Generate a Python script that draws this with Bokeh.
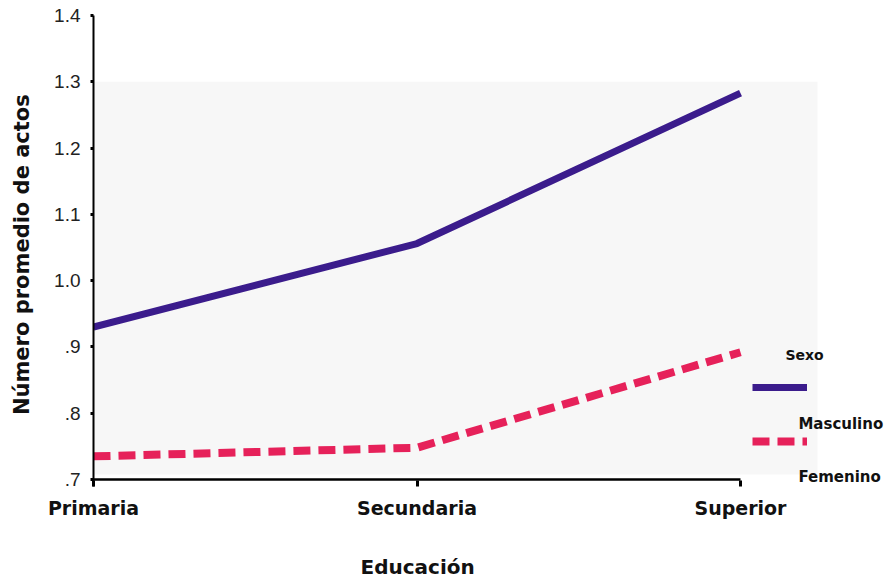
from bokeh.plotting import figure
from bokeh.models import Range1d, FixedTicker, BoxAnnotation, Label, Legend, LegendItem, Title
from bokeh.core.properties import value
from bokeh.embed import file_html
from bokeh.resources import INLINE

# ---- data ----
categories = ["Primaria", "Secundaria", "Superior"]
masculino = [0.93, 1.056, 1.283]
femenino = [0.735, 0.748, 0.892]
series_names = ["Masculino", "Femenino"]
y_ticks = [0.7, 0.8, 0.9, 1.0, 1.1, 1.2, 1.3, 1.4]
y_tick_labels = [".7", ".8", ".9", "1.0", "1.1", "1.2", "1.3", "1.4"]
legend_title = "Sexo"
x_title = "Educación"
y_title = "Número promedio de  actos"

xs = list(range(len(categories)))

MASC = "#3b1c8c"
FEM = "#e6215a"
BOLD = "DejaVu Sans"

p = figure(width=887, height=580, output_backend="svg", toolbar_location=None,
           x_range=Range1d(0, 2.4544), y_range=Range1d(y_ticks[0] - 0.0105, y_ticks[-1]),
           min_border_left=93, min_border_right=0, min_border_top=15, min_border_bottom=93)
p.outline_line_color = None
p.xgrid.visible = False
p.ygrid.visible = False
p.background_fill_color = "white"
p.border_fill_color = "white"

# light grey panel
p.add_layout(BoxAnnotation(left=-0.1, right=2.238, bottom=0.7075, top=1.3,
                           fill_color="#f7f7f7", fill_alpha=1, line_color=None,
                           level="underlay"))

r_m = p.line(xs, masculino, line_color=MASC, line_width=7)
r_f = p.line(xs, femenino, line_color=FEM, line_width=8, line_dash="17 8")

# x axis baseline only across the categories
p.line([xs[0], xs[-1]], [y_ticks[0], y_ticks[0]], line_color="black", line_width=2.5)

# x axis
xa = p.xaxis[0]
xa.ticker = FixedTicker(ticks=xs)
xa.major_label_overrides = {x: c for x, c in zip(xs, categories)}
xa.axis_line_color = None
xa.major_tick_line_width = 3
xa.major_tick_out = 0
xa.major_tick_in = 6
xa.minor_tick_line_color = None
xa.major_label_text_font = BOLD
xa.major_label_text_font_style = "bold"
xa.major_label_text_font_size = "19px"
xa.major_label_text_color = "#111111"
xa.major_label_standoff = 10
# blank spacer label to push the title further down
xa.axis_label = " "
xa.axis_label_text_font_size = "1px"
xa.axis_label_standoff = 29

# y axis
ya = p.yaxis[0]
ya.ticker = FixedTicker(ticks=y_ticks)
ya.major_label_overrides = dict(zip(y_ticks, y_tick_labels))
ya.axis_line_width = 2
ya.axis_line_color = "black"
ya.major_tick_line_width = 3
ya.major_tick_out = 3
ya.major_tick_in = 0
ya.minor_tick_line_color = None
ya.major_label_text_font = "Liberation Sans"
ya.major_label_text_font_size = "19px"
ya.major_label_text_color = "#222222"
ya.major_label_standoff = 10
ya.axis_label = y_title
ya.axis_label_text_font = BOLD
ya.axis_label_text_font_style = "bold"
ya.axis_label_text_font_size = "21px"
ya.axis_label_text_color = "#111111"
ya.axis_label_standoff = 17

# legend glyphs (labels drawn separately, below each glyph)
legend = Legend(items=[LegendItem(label=value(" "), renderers=[r_m]),
                       LegendItem(label=value("  "), renderers=[r_f])],
                location=(659, 35), orientation="vertical", padding=0, spacing=34,
                glyph_width=55, glyph_height=20, label_height=20, label_width=1,
                label_standoff=0, background_fill_alpha=0, border_line_alpha=0,
                margin=0, label_text_font_size="8px")
p.add_layout(legend)

def lab(x, y, text, size, align="left"):
    p.add_layout(Label(x=x, y=y, text=text, text_font=BOLD, text_font_style="bold",
                       text_font_size=size, text_color="#111111",
                       text_align=align, text_baseline="middle"))

lab(2.139, 0.888, legend_title, "14px")
lab(2.179, 0.7843, series_names[0], "15px")
lab(2.179, 0.7045, series_names[1], "15px")

p.add_layout(Title(text=x_title, align="left", offset=267, standoff=0, vertical_align="top",
                   text_font=BOLD, text_font_style="bold", text_font_size="20px",
                   text_color="#111111"), "below")

open("out.html", "w").write(file_html(p, INLINE))
